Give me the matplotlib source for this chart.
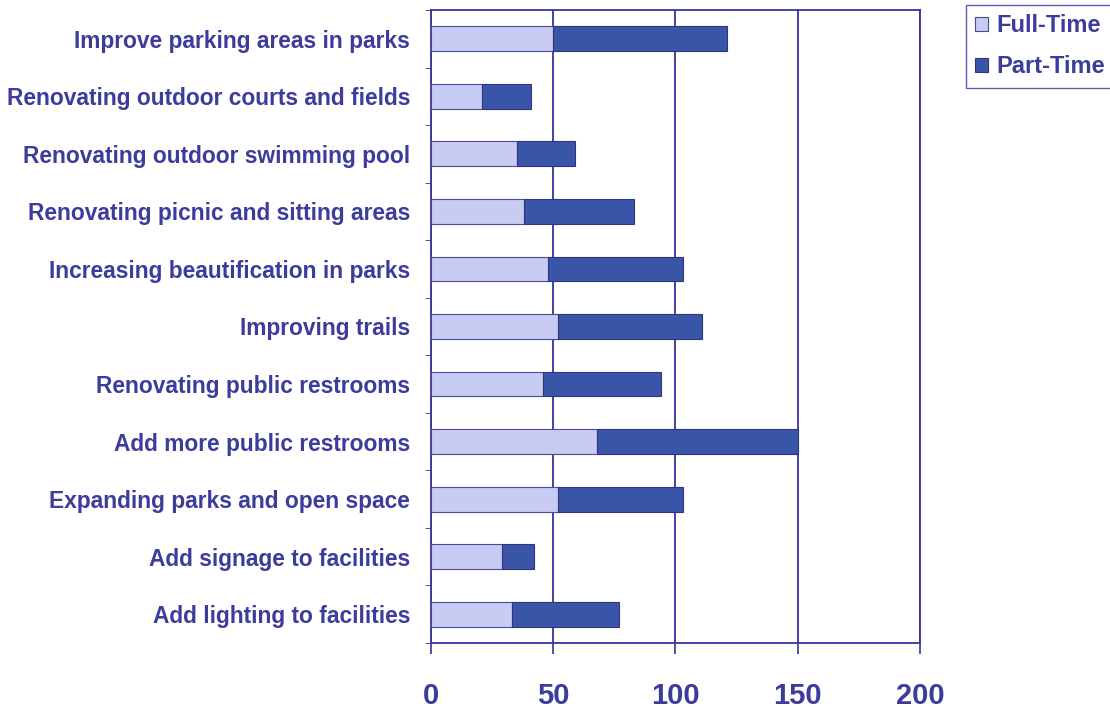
import matplotlib as mlp
import matplotlib.pyplot as plt
import numpy as np

mlp.rcParams['font.family'] = ['Liberation Sans', 'DejaVu Sans']

categories = ['Improve parking areas in parks',
              'Renovating outdoor courts and fields',
              'Renovating outdoor swimming pool',
              'Renovating picnic and sitting areas',
              'Increasing beautification in parks',
              'Improving trails',
              'Renovating public restrooms',
              'Add more public restrooms',
              'Expanding parks and open space',
              'Add signage to facilities',
              'Add lighting to facilities']
full_time = [50, 21, 35, 38, 48, 52, 46, 68, 52, 29, 33]
part_time = [71, 20, 24, 45, 55, 59, 48, 82, 51, 13, 44]
x_ticks = [0, 50, 100, 150, 200]

text_col = '#3b3c9c'
line_col = '#3434a0'
light = '#c9ccf2'
dark = '#3955a8'

fig = plt.figure(figsize=(11.1, 7.11), dpi=100)
ax = fig.add_axes([0.3883, 0.0956, 0.4405, 0.8904])

y = np.arange(len(categories))
ax.barh(y, full_time, height=0.43, color=light, edgecolor='#4a4a9a', linewidth=0.8,
        label='Full-Time', zorder=3)
ax.barh(y, part_time, left=full_time, height=0.43, color=dark, edgecolor='#33337f',
        linewidth=0.8, label='Part-Time', zorder=3)

ax.set_xlim(0, 200)
ax.set_ylim(len(categories) - 0.5, -0.5)
ax.set_xticks(x_ticks)
ax.set_xticklabels([str(t) for t in x_ticks], fontsize=21, fontweight='bold', color=text_col)
ax.set_yticks(y)
ax.set_yticklabels(categories, fontsize=16.4, fontweight='bold', color=text_col)
ax.set_yticks(np.arange(-0.5, len(categories)), minor=True)
ax.tick_params(axis='y', which='major', length=0, pad=15)
ax.tick_params(axis='y', which='minor', length=4, color=line_col, direction='out')
ax.tick_params(axis='x', length=8, color=line_col, width=1.2, pad=20)

ax.grid(axis='x', color=line_col, linewidth=1.3, zorder=1)
for s in ax.spines.values():
    s.set_color(line_col)
    s.set_linewidth(1.3)

fig.legend(loc='upper left', bbox_to_anchor=(0.870, 0.993), borderaxespad=0,
           prop={'weight': 'bold', 'size': 17}, frameon=True, fancybox=False,
           edgecolor=line_col, handlelength=0.55, handleheight=0.55, handletextpad=0.35,
           borderpad=0.4, labelcolor=text_col, labelspacing=0.75)

fig.savefig('out.png', dpi=100)
